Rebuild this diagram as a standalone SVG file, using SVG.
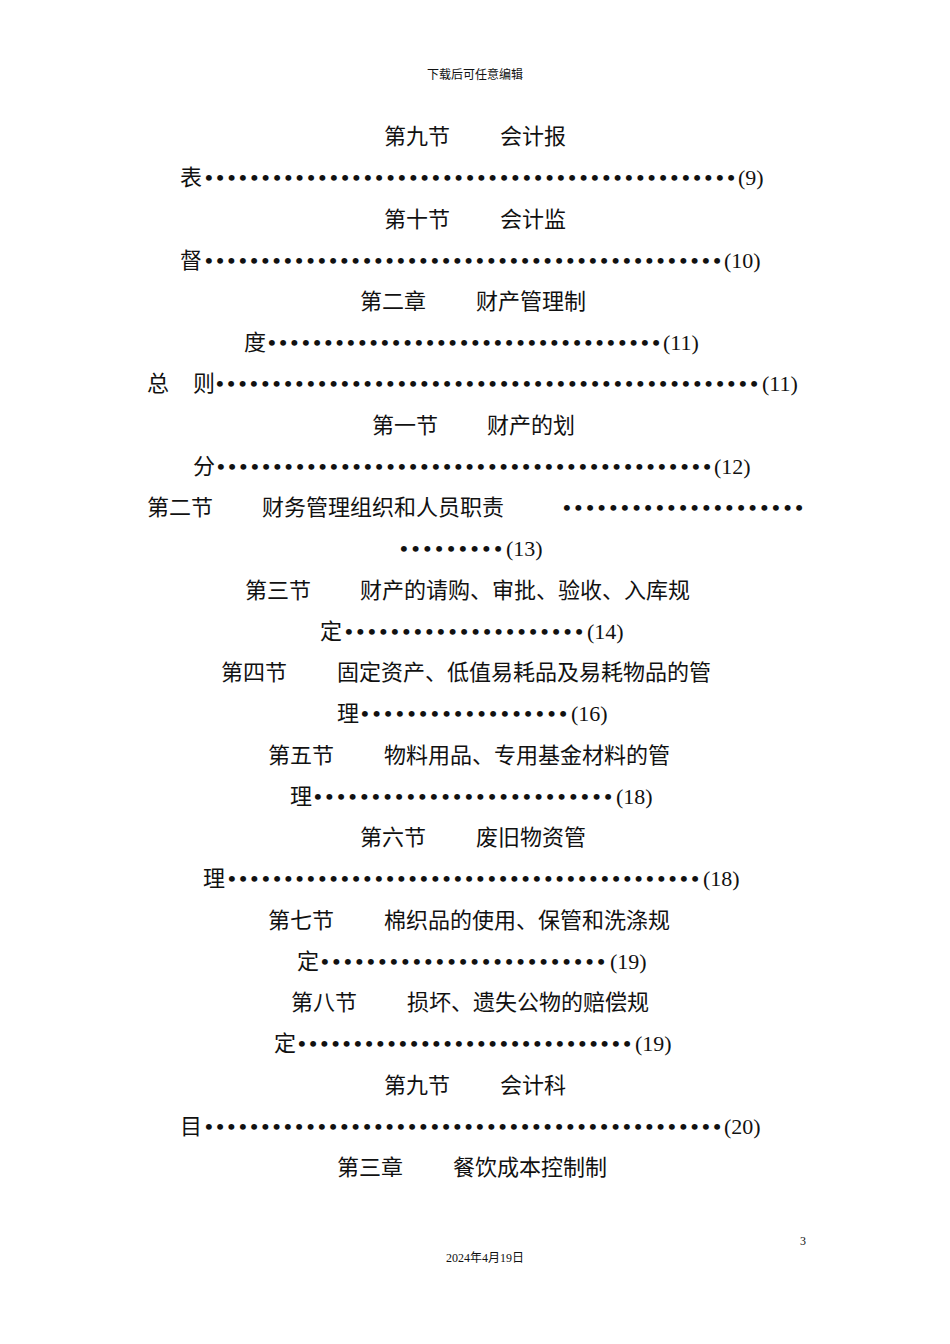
<svg xmlns="http://www.w3.org/2000/svg" width="950" height="1344" viewBox="0 0 950 1344">
<style>
text{font-family:"Liberation Serif","Noto Sans CJK SC",serif;font-size:22px;fill:#111}
.d{font-size:22px;font-weight:bold}
.s{font-size:12px}
</style>
<rect width="950" height="1344" fill="#fff"/>
<text class="s" x="475" y="79" text-anchor="middle">下载后可任意编辑</text>
<text x="384" y="144">第九节</text><text x="500" y="144">会计报</text>
<text x="180" y="185">表</text><text class="d" x="205" y="185" textLength="530" lengthAdjust="spacing">•••••••••••••••••••••••••••••••••••••••••••••••</text><text x="738" y="185">(9)</text>
<text x="384" y="227">第十节</text><text x="500" y="227">会计监</text>
<text x="180" y="268">督</text><text class="d" x="205" y="268" textLength="516" lengthAdjust="spacing">••••••••••••••••••••••••••••••••••••••••••••••</text><text x="724" y="268">(10)</text>
<text x="360" y="309">第二章</text><text x="476" y="309">财产管理制</text>
<text x="244" y="350">度</text><text class="d" x="268" y="350" textLength="392" lengthAdjust="spacing">•••••••••••••••••••••••••••••••••••</text><text x="663" y="350">(11)</text>
<text x="147" y="391">总</text><text x="193" y="391">则</text><text class="d" x="216" y="391" textLength="542" lengthAdjust="spacing">••••••••••••••••••••••••••••••••••••••••••••••••</text><text x="762" y="391">(11)</text>
<text x="372" y="433">第一节</text><text x="487" y="433">财产的划</text>
<text x="193" y="474">分</text><text class="d" x="217" y="474" textLength="494" lengthAdjust="spacing">••••••••••••••••••••••••••••••••••••••••••••</text><text x="714" y="474">(12)</text>
<text x="147" y="515">第二节</text><text x="262" y="515">财务管理组织和人员职责</text><text class="d" x="563" y="515" textLength="240" lengthAdjust="spacing">•••••••••••••••••••••</text>
<text class="d" x="400" y="556" textLength="102" lengthAdjust="spacing">•••••••••</text><text x="506" y="556">(13)</text>
<text x="245" y="598">第三节</text><text x="360" y="598">财产的请购、审批、验收、入库规</text>
<text x="320" y="639">定</text><text class="d" x="345" y="639" textLength="238" lengthAdjust="spacing">•••••••••••••••••••••</text><text x="587" y="639">(14)</text>
<text x="221" y="680">第四节</text><text x="337" y="680">固定资产、低值易耗品及易耗物品的管</text>
<text x="337" y="721">理</text><text class="d" x="361" y="721" textLength="206" lengthAdjust="spacing">••••••••••••••••••</text><text x="571" y="721">(16)</text>
<text x="268" y="763">第五节</text><text x="384" y="763">物料用品、专用基金材料的管</text>
<text x="290" y="804">理</text><text class="d" x="314" y="804" textLength="298" lengthAdjust="spacing">••••••••••••••••••••••••••</text><text x="616" y="804">(18)</text>
<text x="360" y="845">第六节</text><text x="476" y="845">废旧物资管</text>
<text x="203" y="886">理</text><text class="d" x="228" y="886" textLength="471" lengthAdjust="spacing">••••••••••••••••••••••••••••••••••••••••••</text><text x="703" y="886">(18)</text>
<text x="268" y="928">第七节</text><text x="384" y="928">棉织品的使用、保管和洗涤规</text>
<text x="297" y="969">定</text><text class="d" x="321" y="969" textLength="284" lengthAdjust="spacing">•••••••••••••••••••••••••</text><text x="610" y="969">(19)</text>
<text x="291" y="1010">第八节</text><text x="407" y="1010">损坏、遗失公物的赔偿规</text>
<text x="274" y="1051">定</text><text class="d" x="298" y="1051" textLength="333" lengthAdjust="spacing">••••••••••••••••••••••••••••••</text><text x="635" y="1051">(19)</text>
<text x="384" y="1093">第九节</text><text x="500" y="1093">会计科</text>
<text x="180" y="1134">目</text><text class="d" x="205" y="1134" textLength="516" lengthAdjust="spacing">••••••••••••••••••••••••••••••••••••••••••••••</text><text x="724" y="1134">(20)</text>
<text x="337" y="1175">第三章</text><text x="453" y="1175">餐饮成本控制制</text>
<text class="s" x="800" y="1245">3</text>
<text class="s" x="485" y="1262" text-anchor="middle">2024年4月19日</text>
</svg>
